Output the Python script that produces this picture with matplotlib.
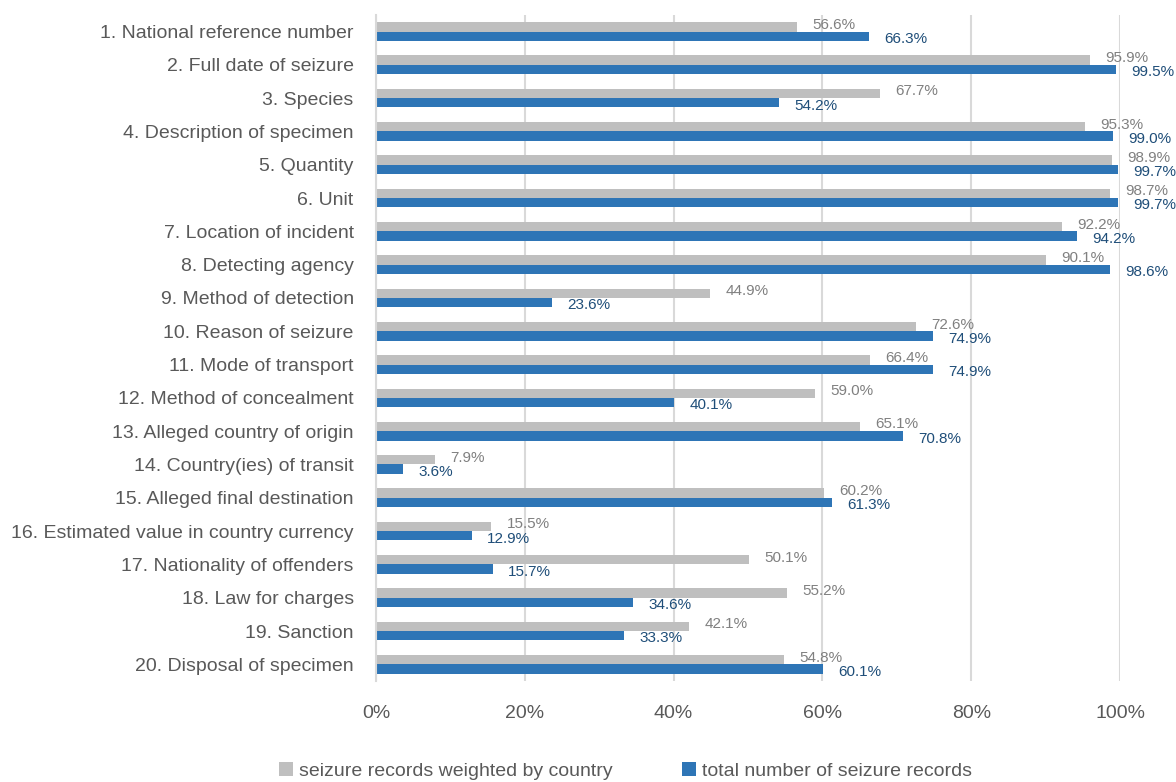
import matplotlib
matplotlib.use("Agg")
import matplotlib.pyplot as plt
from matplotlib import font_manager
import numpy as np

categories = [
    "1. National reference number",
    "2. Full date of seizure",
    "3. Species",
    "4. Description of specimen",
    "5. Quantity",
    "6. Unit",
    "7. Location of incident",
    "8. Detecting agency",
    "9. Method of detection",
    "10. Reason of seizure",
    "11. Mode of transport",
    "12. Method of concealment",
    "13. Alleged country of origin",
    "14. Country(ies) of transit",
    "15. Alleged final destination",
    "16. Estimated value in country currency",
    "17. Nationality of offenders",
    "18. Law for charges",
    "19. Sanction",
    "20. Disposal of specimen",
]
weighted = [56.6, 95.9, 67.7, 95.3, 98.9, 98.7, 92.2, 90.1, 44.9, 72.6,
            66.4, 59.0, 65.1, 7.9, 60.2, 15.5, 50.1, 55.2, 42.1, 54.8]
total = [66.3, 99.5, 54.2, 99.0, 99.7, 99.7, 94.2, 98.6, 23.6, 74.9,
         74.9, 40.1, 70.8, 3.6, 61.3, 12.9, 15.7, 34.6, 33.3, 60.1]
series_names = ["seizure records weighted by country", "total number of seizure records"]

names = {f.name for f in font_manager.fontManager.ttflist}
fam = "Liberation Sans Narrow" if "Liberation Sans Narrow" in names else "Liberation Sans"
plt.rcParams["font.family"] = [fam, "DejaVu Sans"]

gray = "#BFBFBF"
blue = "#2E75B6"

fig = plt.figure(figsize=(11.76, 7.82), dpi=100)
ax = fig.add_axes([0.3197, 0.1292, 0.6327, 0.8518])

y = np.arange(len(categories))
h = 0.28
ax.barh(y - h / 2, weighted, height=h, color=gray, label=series_names[0], zorder=2)
ax.barh(y + h / 2, total, height=h, color=blue, label=series_names[1], zorder=2)

for i in range(len(categories)):
    ax.annotate(f"{weighted[i]:.1f}%", (weighted[i], y[i] - h / 2), xytext=(11, 1.5),
                textcoords="offset points", ha="left", va="center",
                fontsize=11, color="#808080")
    ax.annotate(f"{total[i]:.1f}%", (total[i], y[i] + h / 2), xytext=(11, -2),
                textcoords="offset points", ha="left", va="center",
                fontsize=11, color="#1F4E79")

ax.set_xlim(0, 100)
ax.set_ylim(len(categories) - 0.5, -0.5)
ax.set_xticks(range(0, 101, 20))
ax.set_xticklabels([f"{v}%" for v in range(0, 101, 20)])
ax.set_yticks(y)
ax.set_yticklabels(categories)
ax.tick_params(axis="both", length=0, labelsize=14, colors="#595959")
ax.tick_params(axis="x", pad=17)
ax.tick_params(axis="y", pad=16)
ax.grid(axis="x", color="#D9D9D9", linewidth=1.5, zorder=0)
for s in ["top", "right", "bottom"]:
    ax.spines[s].set_visible(False)
ax.spines["left"].set_color("#D9D9D9")
ax.spines["left"].set_linewidth(1.5)

fig.legend(loc="center", bbox_to_anchor=(0.532, 0.014), ncol=2, frameon=False,
           fontsize=14, labelcolor="#595959", handlelength=0.7, handleheight=0.7,
           handletextpad=0.3, columnspacing=3.6)

fig.savefig("out.png", dpi=100)
